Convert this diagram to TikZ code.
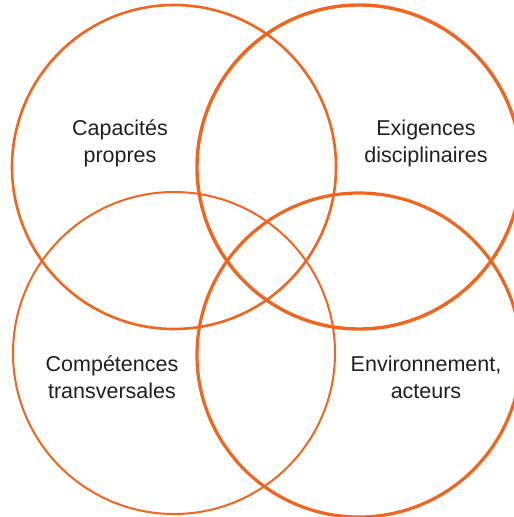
\documentclass[tikz,border=0pt]{standalone}
\usepackage{fontspec}
\setmainfont{Liberation Sans}
\usepackage{tikz}
\usepackage{xcolor}
\definecolor{venn-orange}{RGB}{242,101,30}
\definecolor{venn-text}{RGB}{35,31,32}
\tikzset{
    venn-circle/.style = {draw=venn-orange, circle, inner sep=0pt, minimum size=324pt},
    venn-label/.style = {text=venn-text, align=center, font=\fontsize{21.5}{27}\selectfont},
}

\begin{document}
\begin{tikzpicture}[x=1pt, y=-1pt]
\useasboundingbox (0,0) rectangle (514,517);
% the four sets
\node [venn-circle, line width=2.6pt] (capacites) at (174,167) {};
\node [venn-circle, line width=3.4pt] (exigences) at (359,167) {};
\node [venn-circle, line width=2pt, minimum size=322pt] (competences) at (174,353) {};
\node [venn-circle, line width=3.2pt] (environnement) at (359,355) {};
% labels
\node [venn-label] (capacites-label) at (120,143) {Capacités\\propres};
\node [venn-label] (exigences-label) at (426,143) {Exigences\\disciplinaires};
\node [venn-label] (competences-label) at (112,377.5) {Compétences\\transversales};
\node [venn-label] (environnement-label) at (426,377.5) {Environnement,\\acteurs};
\end{tikzpicture}
\end{document}
